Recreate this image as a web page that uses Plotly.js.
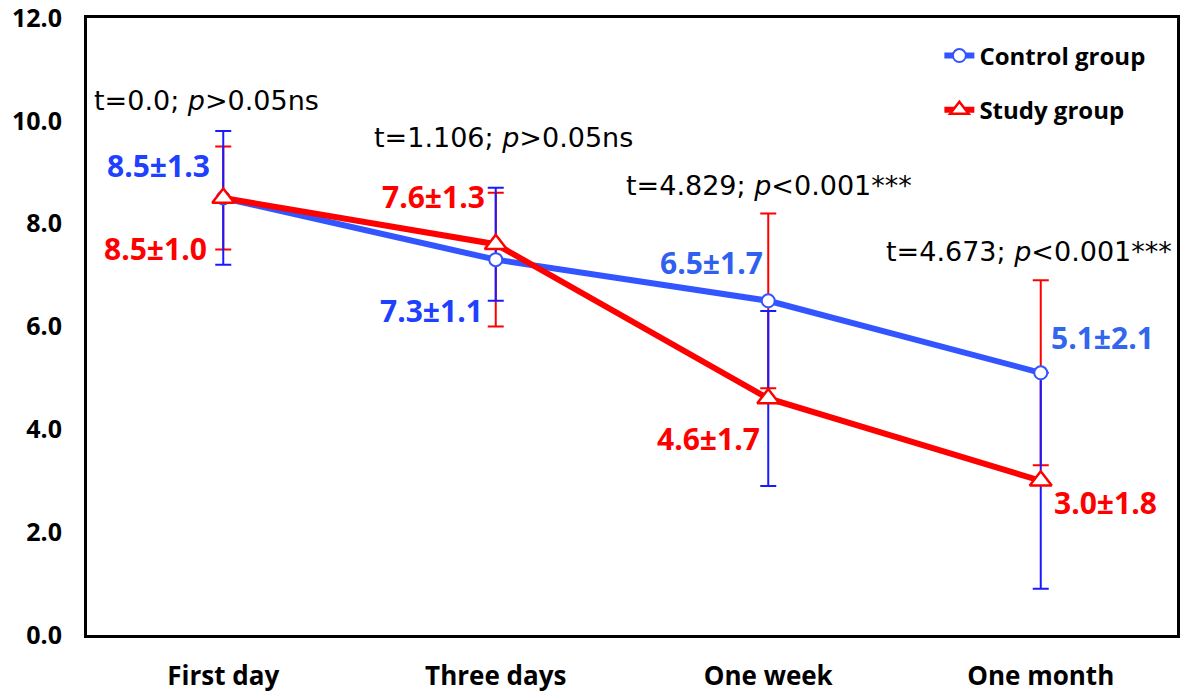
<!DOCTYPE html>
<html>
<head>
<meta charset="utf-8">
<script src="https://cdn.plot.ly/plotly-3.0.1.min.js"></script>
<style>
html,body{margin:0;padding:0;background:#fff;}
#chart{width:1183px;height:694px;}
</style>
</head>
<body>
<div id="chart"></div>
<script>
var categories = ["First day", "Three days", "One week", "One month"];
var controlMean = [8.5, 7.3, 6.5, 5.1];
var controlSD = [1.3, 1.1, 1.7, 2.1];
var studyMean = [8.5, 7.6, 4.6, 3.0];
var studySD = [1.0, 1.3, 1.7, 1.8];
var controlLabels = ["8.5±1.3", "7.3±1.1", "6.5±1.7", "5.1±2.1"];
var studyLabels = ["8.5±1.0", "7.6±1.3", "4.6±1.7", "3.0±1.8"];
var statLabels = ["t=0.0; <i>p</i>>0.05ns", "t=1.106; <i>p</i>>0.05ns", "t=4.829; <i>p</i><0.001***", "t=4.673; <i>p</i><0.001***"];
var yTicks = [0, 2, 4, 6, 8, 10, 12];

var BLUE_LINE = "#3355ff";
var BLUE_ERR = "#1a1aff";
var RED = "#ff0000";
var FONT = "Open Sans, Noto Sans, sans-serif";
var WIDE = "DejaVu Sans, sans-serif";

// In the original figure the error bars are drawn at the other group's mean
var redErr = {
  x: categories, y: controlMean, type: "scatter", mode: "markers",
  marker: {opacity: 0, size: 1}, showlegend: false, hoverinfo: "skip",
  error_y: {type: "data", array: studySD, visible: true, color: RED, thickness: 2, width: 8}
};
var blueErr = {
  x: categories, y: studyMean, type: "scatter", mode: "markers",
  marker: {opacity: 0, size: 1}, showlegend: false, hoverinfo: "skip",
  error_y: {type: "data", array: controlSD, visible: true, color: BLUE_ERR, thickness: 2, width: 8}
};
var control = {
  x: categories, y: controlMean, type: "scatter", mode: "lines+markers",
  name: "Control group", legendgroup: "a",
  line: {color: BLUE_LINE, width: 6},
  marker: {symbol: "circle", size: 13, color: "#ffffff", line: {color: BLUE_LINE, width: 2}}
};
var study = {
  x: categories, y: studyMean, type: "scatter", mode: "lines+markers",
  name: "Study group", legendgroup: "b",
  line: {color: RED, width: 6},
  marker: {symbol: "triangle-up", size: 19, color: "#ffffff", line: {color: RED, width: 2.5}}
};

var ctrlOffsets = [[-0.239, 9.14], [0.766, 6.32], [1.79, 7.25], [3.228, 5.78]];
var studyOffsets = [[-0.247, 7.51], [0.773, 8.52], [1.779, 3.83], [3.236, 2.57]];
var statPos = [[-0.06, 10.4], [1.027, 9.68], [2.003, 8.75], [2.957, 7.45]];
var ctrlColors = ["#2040ff", "#2040ff", "#3060f0", "#3366ee"];

var annotations = [];
for (var i = 0; i < categories.length; i++) {
  annotations.push({x: ctrlOffsets[i][0], y: ctrlOffsets[i][1], xref: "x", yref: "y",
    text: "<b>" + controlLabels[i] + "</b>", showarrow: false,
    font: {family: FONT, size: 30, color: ctrlColors[i]}});
  annotations.push({x: studyOffsets[i][0], y: studyOffsets[i][1], xref: "x", yref: "y",
    text: "<b>" + studyLabels[i] + "</b>", showarrow: false,
    font: {family: FONT, size: 30, color: RED}});
  annotations.push({x: statPos[i][0], y: statPos[i][1], xref: "x", yref: "y",
    text: statLabels[i], showarrow: false,
    font: {family: WIDE, size: 27, color: "#000000"}});
}

var layout = {
  width: 1183, height: 694,
  margin: {l: 87, r: 6, t: 18, b: 59},
  paper_bgcolor: "#ffffff", plot_bgcolor: "#ffffff",
  font: {family: FONT, color: "#000000"},
  showlegend: true,
  legend: {x: 0.782, y: 0.975, xanchor: "left", yanchor: "top",
    bgcolor: "rgba(0,0,0,0)", traceorder: "grouped", tracegroupgap: 20,
    font: {family: FONT, size: 24, color: "#000000", weight: "bold"}},
  xaxis: {type: "category", range: [-0.5, 3.5], showgrid: false, zeroline: false,
    showline: true, linecolor: "#000000", linewidth: 3, mirror: true,
    ticks: "", ticklabelstandoff: 16,
    tickfont: {family: FONT, size: 26, color: "#000000", weight: "bold"}},
  yaxis: {range: [0, 12], tickvals: yTicks, tickformat: ".1f", showgrid: false, zeroline: false,
    showline: true, linecolor: "#000000", linewidth: 3, mirror: true,
    ticks: "", ticklabelstandoff: 17, ticklabeloverflow: "allow",
    tickfont: {family: FONT, size: 25, color: "#000000", weight: "bold"}},
  annotations: annotations
};

Plotly.newPlot("chart", [redErr, blueErr, control, study], layout, {displayModeBar: false, staticPlot: true});
</script>
</body>
</html>
